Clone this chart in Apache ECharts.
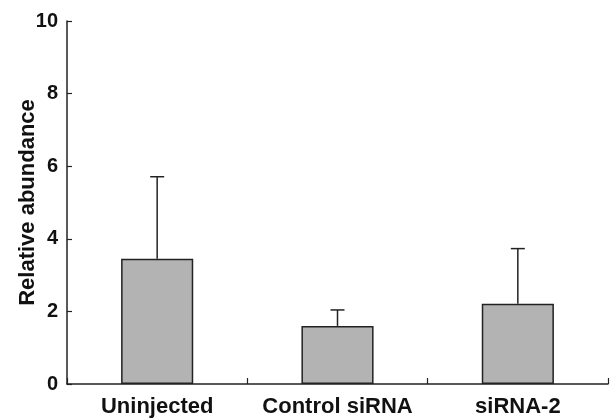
<!DOCTYPE html>
<html>
<head>
<meta charset="utf-8">
<script src="https://cdn.jsdelivr.net/npm/echarts@6/dist/echarts.min.js"></script>
<style>
  html, body { margin: 0; padding: 0; background: #fff; }
  #chart { width: 612px; height: 420px; }
</style>
</head>
<body>
<div id="chart"></div>
<script>
// values
const categories = ['Uninjected', 'Control siRNA', 'siRNA-2'];
const means = [3.45, 1.6, 2.21];
const upper = [5.71, 2.04, 3.73];
const yTicks = [0, 2, 4, 6, 8, 10];

const FONT = 'Liberation Sans';
const chart = echarts.init(document.getElementById('chart'));

const errData = categories.map((c, i) => [i, means[i], upper[i]]);

chart.setOption({
    animation: false,
    grid: {left: 67, right: 4, top: 21, bottom: 36, containLabel: false, outerBoundsMode: 'none'},
    xAxis: {
        type: 'category',
        data: categories,
        axisLine: {lineStyle: {color: '#222', width: 1.5}},
        axisTick: {show: true, inside: true, length: 6, lineStyle: {color: '#222', width: 1.2}},
        axisLabel: {
            interval: 0, hideOverlap: false,
            color: '#111', fontFamily: FONT, fontWeight: 'bold', fontSize: 22, margin: 12
        }
    },
    yAxis: {
        type: 'value',
        min: yTicks[0],
        max: yTicks[yTicks.length - 1],
        interval: 2,
        name: 'Relative abundance',
        nameLocation: 'middle',
        nameGap: 28,
        nameMoveOverlap: false,
        nameTextStyle: {color: '#111', fontFamily: FONT, fontWeight: 'bold', fontSize: 22},
        axisLine: {show: true, lineStyle: {color: '#222', width: 1.5}},
        axisTick: {show: true, inside: true, length: 5, lineStyle: {color: '#222', width: 1.2}},
        splitLine: {show: false},
        axisLabel: {color: '#111', fontFamily: FONT, fontWeight: 'bold', fontSize: 20, margin: 9}
    },
    series: [
        {
            type: 'bar',
            data: means,
            barWidth: '40%',
            itemStyle: {color: '#b3b3b3', borderColor: '#222', borderWidth: 1.5}
        },
        {
            type: 'custom',
            data: errData,
            z: 1,
            renderItem: function (params, api) {
                const base = api.coord([api.value(0), api.value(1)]);
                const top = api.coord([api.value(0), api.value(2)]);
                const half = 7;
                const style = {stroke: '#222', lineWidth: 1.5};
                return {
                    type: 'group',
                    children: [
                        {type: 'line', shape: {x1: base[0], y1: base[1], x2: top[0], y2: top[1]}, style: style},
                        {type: 'line', shape: {x1: top[0] - half, y1: top[1], x2: top[0] + half, y2: top[1]}, style: style}
                    ]
                };
            }
        }
    ]
});
</script>
</body>
</html>
